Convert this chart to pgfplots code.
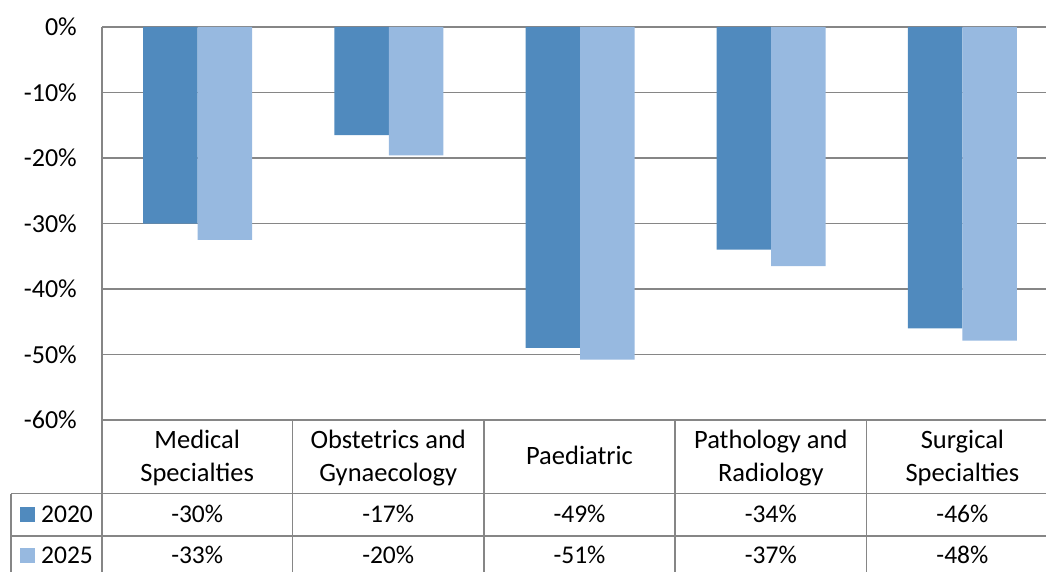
\documentclass[border=0pt]{standalone}
\usepackage{pgfplots}
\pgfplotsset{compat=1.18}
\usepackage{fontspec}
\setmainfont{Carlito}
\definecolor{cA}{RGB}{80,138,190}
\definecolor{cB}{RGB}{151,185,224}
\definecolor{gl}{RGB}{134,134,134}
\begin{document}
\begin{tikzpicture}[x=1pt,y=-1pt]
\begin{scope}
\clip (0,0) rectangle (1046,572);
\begin{axis}[
  at={(102pt,-420pt)}, anchor=south west,
  width=956pt, height=393pt, scale only axis,
  xmin=-0.5, xmax=4.5, ymin=-60, ymax=0,
  ytick={0,-10,-20,-30,-40,-50,-60},
  yticklabel={\pgfmathprintnumber{\tick}\%},
  /pgf/number format/assume math mode=true,
  xtick=\empty,
  ymajorgrids, grid style={gl, line width=1.2pt},
  major tick length=0pt,
  axis x line=none,
  axis y line*=left,
  axis line style={gl, line width=1.2pt},
  yticklabel style={font=\fontsize{26}{30}\selectfont, inner sep=0pt, xshift=-25pt},
  ybar=0pt, bar width=54.5pt,
  clip=false,
]
\addplot[fill=cA, draw=none] coordinates {(0,-30) (1,-16.5) (2,-49) (3,-34) (4,-46)};
\addplot[fill=cB, draw=none] coordinates {(0,-32.5) (1,-19.6) (2,-50.8) (3,-36.5) (4,-47.9)};
\end{axis}
% table
\begin{scope}[gl, line width=1.5pt]
\draw (102,27) -- (102,580);
\draw (102,420) -- (1060,420);
\draw (11,493.5) -- (1060,493.5);
\draw (11,536) -- (1060,536);
\draw (11,493.5) -- (11,580);
\foreach \xx in {292.3,484,675,866.7} \draw (\xx,420) -- (\xx,580);
\end{scope}
\begin{scope}[font=\fontsize{26.5}{30}\selectfont, every node/.style={inner sep=0pt}]
\node[anchor=base] at (197.2,448) {Medical};
\node[anchor=base] at (197.2,481) {Specialties};
\node[anchor=base] at (388.2,448) {Obstetrics and};
\node[anchor=base] at (388.2,481) {Gynaecology};
\node[anchor=base] at (579.5,464.5) {Paediatric};
\node[anchor=base] at (770.8,448) {Pathology and};
\node[anchor=base] at (770.8,481) {Radiology};
\node[anchor=base] at (962.4,448) {Surgical};
\node[anchor=base] at (962.4,481) {Specialties};
\fill[cA] (20,507) rectangle (35,522);
\fill[cB] (20,548) rectangle (35,563);
\end{scope}
\begin{scope}[font=\fontsize{25.5}{30}\selectfont, every node/.style={inner sep=0pt}]
\node[anchor=base west] at (41,522.5) {2020};
\node[anchor=base west] at (41,563.5) {2025};
\foreach \xx/\va/\vb in {197.2/-30/-33, 388.2/-17/-20, 579.5/-49/-51, 770.8/-34/-37, 962.4/-46/-48} {
  \node[anchor=base] at (\xx,522.5) {\va\%};
  \node[anchor=base] at (\xx,563.5) {\vb\%};
}
\end{scope}
\end{scope}
\pgfresetboundingbox
\useasboundingbox (0,0) rectangle (1046,572);
\end{tikzpicture}
\end{document}
